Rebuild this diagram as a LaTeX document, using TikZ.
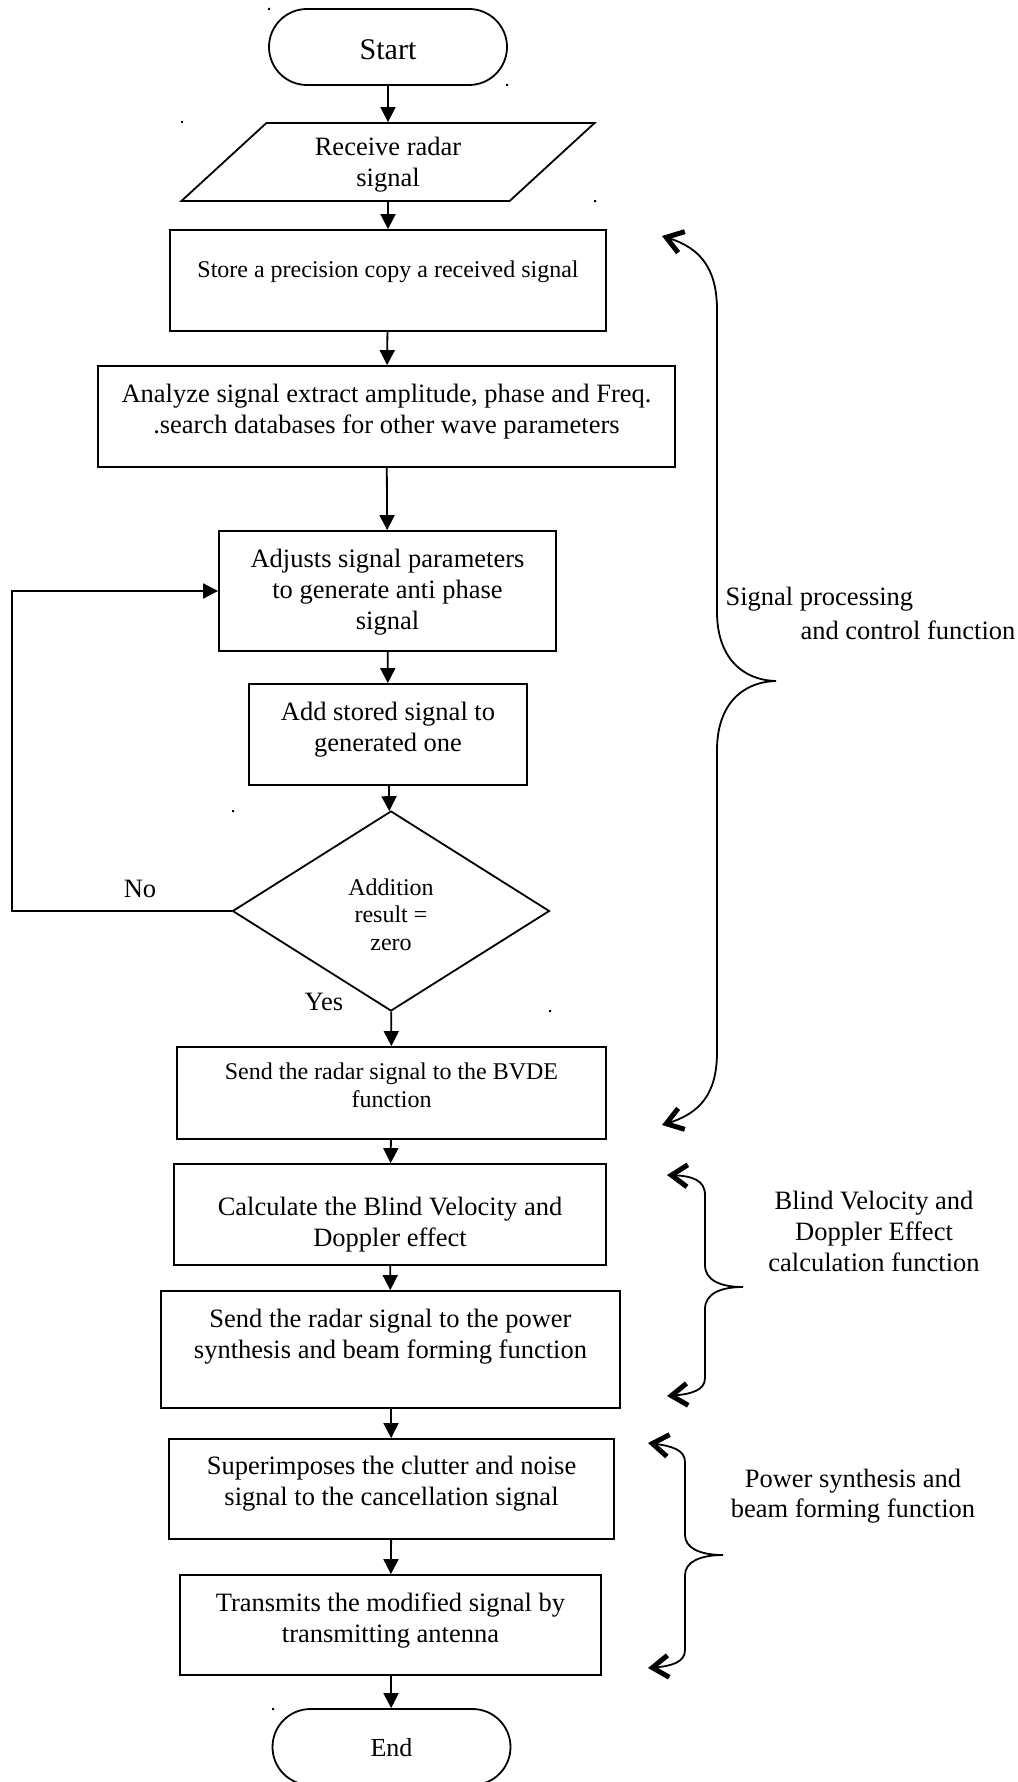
\documentclass[tikz,border=0pt]{standalone}
\usepackage{fontspec}
\setmainfont{Liberation Serif}
\usetikzlibrary{shapes.geometric,arrows.meta}

\tikzset{
  box/.style={draw, rectangle, line width=1.8pt, inner sep=0pt},
  term/.style={draw, rectangle, rounded corners=38pt, line width=1.8pt, minimum width=238pt, minimum height=76pt},
  io/.style={draw, trapezium, trapezium left angle=44, trapezium right angle=136, trapezium stretches=true, line width=1.8pt, inner sep=0pt, minimum width=414pt, minimum height=78pt},
  txt/.style={align=center, font=\fontsize{26.5}{31}\selectfont},
  small/.style={align=center, font=\fontsize{24}{27.5}\selectfont},
  arr/.style={line width=1.8pt, -{Triangle[length=15pt, width=15pt]}},
  brace/.style={line width=1.8pt, {Straight Barb[length=16pt, width=22pt, line width=5pt 0]}-{Straight Barb[length=16pt, width=22pt, line width=5pt 0]}},
}

\begin{document}
\begin{tikzpicture}[x=1pt, y=-1pt]
  \useasboundingbox (0,0) rectangle (1017,1782);
  % Start e ingresso
  \node[term, label={[txt, font=\fontsize{30}{34}\selectfont, yshift=-3pt]center:Start}] (start) at (388,47) {};
  \node[io, txt, text depth=0pt] (recv) at (388,162) {Receive radar\\signal};
  % Blocchi di elaborazione
  \node[box, minimum width=436pt, minimum height=101pt,
        label={[small, yshift=9pt]center:{Store a precision copy a received signal}}] (store) at (388,280.5) {};
  \node[box, minimum width=577pt, minimum height=101pt,
        label={[txt, yshift=5pt]center:{Analyze signal extract amplitude, phase and Freq.\\.search databases for other wave parameters}}] (anlz) at (386.5,416.5) {};
  \node[box, minimum width=337pt, minimum height=120pt,
        label={[txt, yshift=-1pt]center:{Adjusts signal parameters\\to generate anti phase\\signal}}] (adj) at (387.5,591) {};
  \node[box, minimum width=278pt, minimum height=101pt,
        label={[txt, yshift=4.5pt]center:{Add stored signal to\\generated one}}] (add) at (388,734.5) {};
  % Decisione
  \node[draw, diamond, line width=1.8pt, inner sep=0pt, minimum width=317pt, minimum height=200pt,
        label={[small, yshift=-3.5pt]center:{Addition\\result =\\zero}}] (dec) at (391,911) {\phantom{x}};
  \node[txt] (no) at (140,889) {No};
  \node[txt] (yes) at (324,1002) {Yes};
  \node[box, minimum width=429pt, minimum height=92pt,
        label={[small, yshift=7.5pt]center:{Send the radar signal to the BVDE\\function}}] (bvde) at (391.5,1093) {};
  \node[box, minimum width=432pt, minimum height=101pt,
        label={[txt, yshift=-10pt]center:{Calculate the Blind Velocity and\\Doppler effect}}] (calc) at (390,1214.5) {};
  \node[box, minimum width=459pt, minimum height=117pt,
        label={[txt, yshift=13pt]center:{Send the radar signal to the power\\synthesis and beam forming function}}] (power) at (390.5,1349.5) {};
  \node[box, minimum width=445pt, minimum height=100pt,
        label={[txt, yshift=5.5pt]center:{Superimposes the clutter and noise\\signal to the cancellation signal}}] (sup) at (391.5,1489) {};
  \node[box, minimum width=421pt, minimum height=100pt,
        label={[txt, yshift=4.5pt]center:{Transmits the modified signal by\\transmitting antenna}}] (trans) at (390.5,1625) {};
  \node[term, label={[txt, font=\fontsize{26}{30}\selectfont, yshift=-1pt]center:End}] (stop) at (391.5,1747) {};
  % Frecce
  \draw[arr] (start) -- (recv);
  \draw[arr] (recv) -- (store);
  \draw[arr] (store) -- (anlz);
  \draw[arr] (anlz) -- (adj);
  \draw[arr] (adj) -- (add);
  \draw[arr] (add) -- (dec);
  \draw[arr] (dec) -- (bvde);
  \draw[arr] (bvde) -- (calc);
  \draw[arr] (calc) -- (power);
  \draw[arr] (power) -- (sup);
  \draw[arr] (sup) -- (trans);
  \draw[arr] (trans) -- (stop);
  % Ritorno sul ramo No
  \coordinate (back) at (12,591);
  \draw[arr] (dec.west) -| (back) -- (adj.west);
  % Parentesi graffe
  \draw[brace] (662,236) .. controls (700,248) and (717,268) .. (717,310) -- (717,612)
    .. controls (717,655) and (740,680) .. (776,681) .. controls (740,682) and (717,707) .. (717,750)
    -- (717,1052) .. controls (717,1094) and (700,1113) .. (662,1125);
  \draw[brace] (667,1175) .. controls (692,1176) and (705,1180) .. (705,1195) -- (705,1265)
    .. controls (705,1280) and (720,1287) .. (743,1287) .. controls (720,1287) and (705,1294) .. (705,1309)
    -- (705,1378) .. controls (705,1390) and (692,1394) .. (667,1396);
  \draw[brace] (648,1443) .. controls (672,1446) and (685,1450) .. (685,1462) -- (685,1535)
    .. controls (685,1548) and (700,1555) .. (723,1555) .. controls (700,1555) and (685,1562) .. (685,1575)
    -- (685,1650) .. controls (685,1662) and (672,1666) .. (648,1668);
  % Etichette delle funzioni
  \node[txt, align=left, anchor=west, font=\fontsize{26.5}{34}\selectfont] (sigproc) at (722,613) {Signal processing\\\hspace*{75pt}and control function};
  \node[txt] (bvfun) at (874,1231) {Blind Velocity and\\Doppler Effect\\calculation function};
  \node[txt, font=\fontsize{26.5}{29.5}\selectfont] (pwfun) at (853,1496) {Power synthesis and\\beam forming function};
  % Puntini
  \fill (268,8) rectangle (270,10) (506,84) rectangle (508,86) (181,121) rectangle (183,123)
    (594,200) rectangle (596,202) (232,810) rectangle (234,812) (549,1010) rectangle (551,1012)
    (272,1708) rectangle (274,1710);
\end{tikzpicture}
\end{document}
